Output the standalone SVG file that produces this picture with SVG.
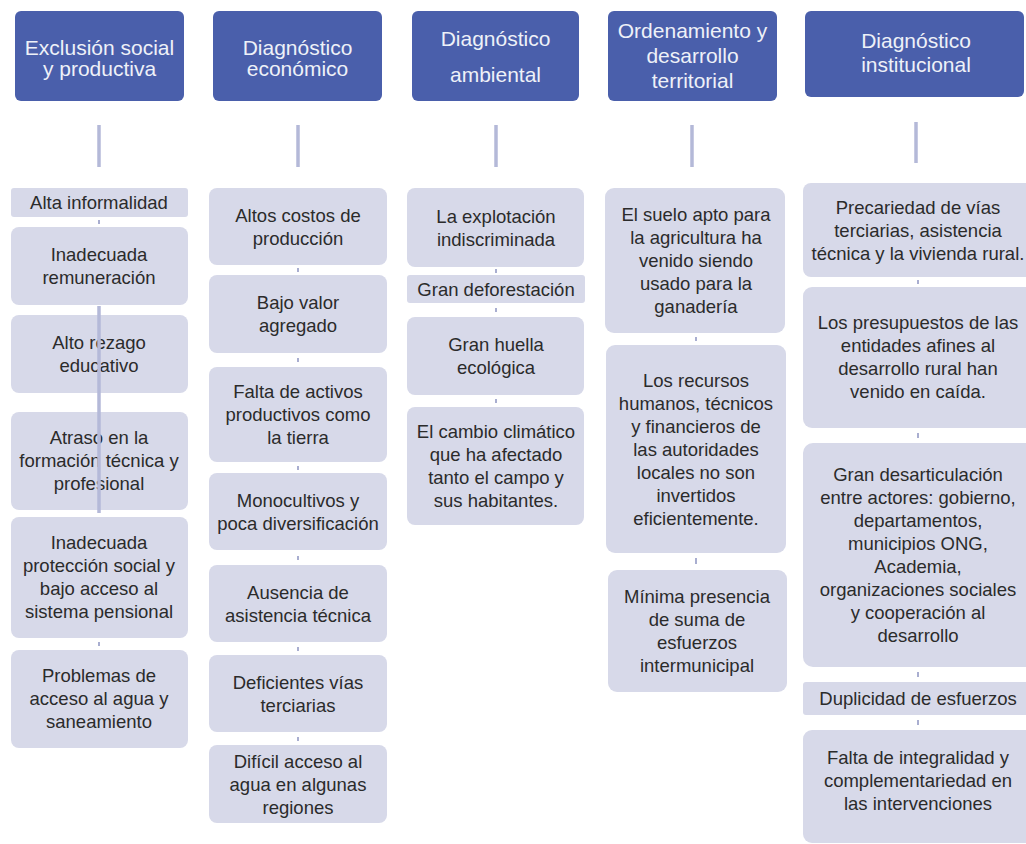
<svg xmlns="http://www.w3.org/2000/svg" width="1026" height="844" viewBox="0 0 1026 844">
<style>
.hd{fill:#4a5fab}
.bx{fill:#d7d9e9}
.ht{font-family:"Liberation Sans",Arial,sans-serif;font-size:21px;fill:#eef1f8;text-anchor:middle}
.bt{font-family:"Liberation Sans",Arial,sans-serif;font-size:18.5px;fill:#2b2b2b;text-anchor:middle}
.cn{stroke:#b4b9d8;stroke-width:3.5;fill:none}
.tk{stroke:#a9aed0;stroke-width:2;fill:none}
</style>
<rect width="1026" height="844" fill="#ffffff"/>
<g id="h1"><rect class="hd" x="15" y="11" width="169" height="90" rx="6"/><text class="ht" x="99.5" y="55">Exclusión social</text><text class="ht" x="99.5" y="76">y productiva</text></g>
<g id="h2"><rect class="hd" x="213" y="11" width="169" height="90" rx="6"/><text class="ht" x="297.5" y="55">Diagnóstico</text><text class="ht" x="297.5" y="76">económico</text></g>
<g id="h3"><rect class="hd" x="412" y="11" width="167" height="90" rx="6"/><text class="ht" x="495.5" y="46">Diagnóstico</text><text class="ht" x="495.5" y="82">ambiental</text></g>
<g id="h4"><rect class="hd" x="608" y="11" width="169" height="90" rx="6"/><text class="ht" x="692.5" y="38">Ordenamiento y</text><text class="ht" x="692.5" y="63">desarrollo</text><text class="ht" x="692.5" y="88">territorial</text></g>
<g id="h5"><rect class="hd" x="805" y="11" width="219" height="86" rx="6"/><text class="ht" x="916" y="48">Diagnóstico</text><text class="ht" x="916" y="72">institucional</text></g>

<g id="c1n1"><rect class="bx" x="11" y="188" width="177" height="29" rx="3"/><text class="bt" x="99" y="209">Alta informalidad</text></g>
<g id="c1n2"><rect class="bx" x="11" y="227" width="177" height="78" rx="8"/><text class="bt" x="99" y="261">Inadecuada</text><text class="bt" x="99" y="284">remuneración</text></g>
<g id="c1n3"><rect class="bx" x="11" y="315" width="177" height="78" rx="8"/><text class="bt" x="99" y="349">Alto rezago</text><text class="bt" x="99" y="372">educativo</text></g>
<g id="c1n4"><rect class="bx" x="11" y="412" width="177" height="98" rx="8"/><text class="bt" x="99" y="444">Atraso en la</text><text class="bt" x="99" y="467">formación técnica y</text><text class="bt" x="99" y="490">profesional</text></g>
<g id="c1n5"><rect class="bx" x="11" y="517" width="177" height="121" rx="8"/><text class="bt" x="99" y="549">Inadecuada</text><text class="bt" x="99" y="572">protección social y</text><text class="bt" x="99" y="595">bajo acceso al</text><text class="bt" x="99" y="618">sistema pensional</text></g>
<g id="c1n6"><rect class="bx" x="11" y="650" width="177" height="98" rx="8"/><text class="bt" x="99" y="682">Problemas de</text><text class="bt" x="99" y="705">acceso al agua y</text><text class="bt" x="99" y="728">saneamiento</text></g>

<g id="c2n1"><rect class="bx" x="209" y="188" width="178" height="77" rx="8"/><text class="bt" x="298" y="221.5">Altos costos de</text><text class="bt" x="298" y="244.5">producción</text></g>
<g id="c2n2"><rect class="bx" x="209" y="275" width="178" height="78" rx="8"/><text class="bt" x="298" y="309">Bajo valor</text><text class="bt" x="298" y="332">agregado</text></g>
<g id="c2n3"><rect class="bx" x="209" y="367" width="178" height="95" rx="8"/><text class="bt" x="298" y="398">Falta de activos</text><text class="bt" x="298" y="421">productivos como</text><text class="bt" x="298" y="444">la tierra</text></g>
<g id="c2n4"><rect class="bx" x="209" y="473" width="178" height="77" rx="8"/><text class="bt" x="298" y="506.5">Monocultivos y</text><text class="bt" x="298" y="529.5">poca diversificación</text></g>
<g id="c2n5"><rect class="bx" x="209" y="565" width="178" height="77" rx="8"/><text class="bt" x="298" y="598.5">Ausencia de</text><text class="bt" x="298" y="621.5">asistencia técnica</text></g>
<g id="c2n6"><rect class="bx" x="209" y="655" width="178" height="77" rx="8"/><text class="bt" x="298" y="688.5">Deficientes vías</text><text class="bt" x="298" y="711.5">terciarias</text></g>
<g id="c2n7"><rect class="bx" x="209" y="745" width="178" height="78" rx="8"/><text class="bt" x="298" y="767.5">Difícil acceso al</text><text class="bt" x="298" y="790.5">agua en algunas</text><text class="bt" x="298" y="813.5">regiones</text></g>

<g id="c3n1"><rect class="bx" x="407" y="188" width="177" height="79" rx="8"/><text class="bt" x="496" y="222.5">La explotación</text><text class="bt" x="496" y="245.5">indiscriminada</text></g>
<g id="c3n2"><rect class="bx" x="407" y="275" width="178" height="28" rx="3"/><text class="bt" x="496" y="296">Gran deforestación</text></g>
<g id="c3n3"><rect class="bx" x="407" y="317" width="177" height="78" rx="8"/><text class="bt" x="496" y="351">Gran huella</text><text class="bt" x="496" y="374">ecológica</text></g>
<g id="c3n4"><rect class="bx" x="407" y="407" width="177" height="118" rx="8"/><text class="bt" x="496" y="438">El cambio climático</text><text class="bt" x="496" y="461">que ha afectado</text><text class="bt" x="496" y="484">tanto el campo y</text><text class="bt" x="496" y="507">sus habitantes.</text></g>

<g id="c4n1"><rect class="bx" x="605" y="188" width="180" height="145" rx="9"/><text class="bt" x="696" y="221">El suelo apto para</text><text class="bt" x="696" y="244">la agricultura ha</text><text class="bt" x="696" y="267">venido siendo</text><text class="bt" x="696" y="290">usado para la</text><text class="bt" x="696" y="313">ganadería</text></g>
<g id="c4n2"><rect class="bx" x="606" y="345" width="180" height="208" rx="9"/><text class="bt" x="696" y="386.5">Los recursos</text><text class="bt" x="696" y="409.5">humanos, técnicos</text><text class="bt" x="696" y="432.5">y financieros de</text><text class="bt" x="696" y="455.5">las autoridades</text><text class="bt" x="696" y="478.5">locales no son</text><text class="bt" x="696" y="501.5">invertidos</text><text class="bt" x="696" y="524.5">eficientemente.</text></g>
<g id="c4n3"><rect class="bx" x="608" y="570" width="179" height="122" rx="9"/><text class="bt" x="697" y="603">Mínima presencia</text><text class="bt" x="697" y="626">de suma de</text><text class="bt" x="697" y="649">esfuerzos</text><text class="bt" x="697" y="672">intermunicipal</text></g>

<g id="c5n1"><rect class="bx" x="803" y="183" width="232" height="94" rx="8"/><text class="bt" x="918" y="213.5">Precariedad de vías</text><text class="bt" x="918" y="236.5">terciarias, asistencia</text><text class="bt" x="918" y="259.5">técnica y la vivienda rural.</text></g>
<g id="c5n2"><rect class="bx" x="803" y="287" width="232" height="141" rx="9"/><text class="bt" x="918" y="329">Los presupuestos de las</text><text class="bt" x="918" y="352">entidades afines al</text><text class="bt" x="918" y="375">desarrollo rural han</text><text class="bt" x="918" y="398">venido en caída.</text></g>
<g id="c5n3"><rect class="bx" x="803" y="443" width="232" height="224" rx="10"/><text class="bt" x="918" y="481">Gran desarticulación</text><text class="bt" x="918" y="504">entre actores: gobierno,</text><text class="bt" x="918" y="527">departamentos,</text><text class="bt" x="918" y="550">municipios ONG,</text><text class="bt" x="918" y="573">Academia,</text><text class="bt" x="918" y="596">organizaciones sociales</text><text class="bt" x="918" y="619">y cooperación al</text><text class="bt" x="918" y="642">desarrollo</text></g>
<g id="c5n4"><rect class="bx" x="803" y="682" width="232" height="33" rx="3"/><text class="bt" x="918" y="705">Duplicidad de esfuerzos</text></g>
<g id="c5n5"><rect class="bx" x="803" y="730" width="232" height="113" rx="9"/><text class="bt" x="918" y="763.5">Falta de integralidad y</text><text class="bt" x="918" y="786.5">complementariedad en</text><text class="bt" x="918" y="809.5">las intervenciones</text></g>

<g id="connectors">
<line class="cn" x1="99" y1="125" x2="99" y2="167"/>
<line class="cn" x1="298" y1="125" x2="298" y2="167"/>
<line class="cn" x1="496" y1="125" x2="496" y2="167"/>
<line class="cn" x1="692" y1="125" x2="692" y2="167"/>
<line class="cn" x1="916" y1="122" x2="916" y2="163"/>
<line class="cn" x1="99" y1="306" x2="99" y2="513"/>
<line class="tk" x1="99" y1="220" x2="99" y2="224"/>
<line class="tk" x1="99" y1="642" x2="99" y2="646"/>
<line class="tk" x1="298" y1="268" x2="298" y2="272"/>
<line class="tk" x1="298" y1="358" x2="298" y2="362"/>
<line class="tk" x1="298" y1="466" x2="298" y2="470"/>
<line class="tk" x1="298" y1="556" x2="298" y2="560"/>
<line class="tk" x1="298" y1="647" x2="298" y2="651"/>
<line class="tk" x1="298" y1="737" x2="298" y2="741"/>
<line class="tk" x1="496" y1="269" x2="496" y2="273"/>
<line class="tk" x1="496" y1="308" x2="496" y2="312"/>
<line class="tk" x1="496" y1="399" x2="496" y2="403"/>
<line class="tk" x1="696" y1="337" x2="696" y2="341"/>
<line class="tk" x1="696" y1="558" x2="696" y2="564"/>
<line class="tk" x1="918" y1="280" x2="918" y2="284"/>
<line class="tk" x1="918" y1="433" x2="918" y2="438"/>
<line class="tk" x1="918" y1="672" x2="918" y2="677"/>
<line class="tk" x1="918" y1="720" x2="918" y2="725"/>
</g>
</svg>
